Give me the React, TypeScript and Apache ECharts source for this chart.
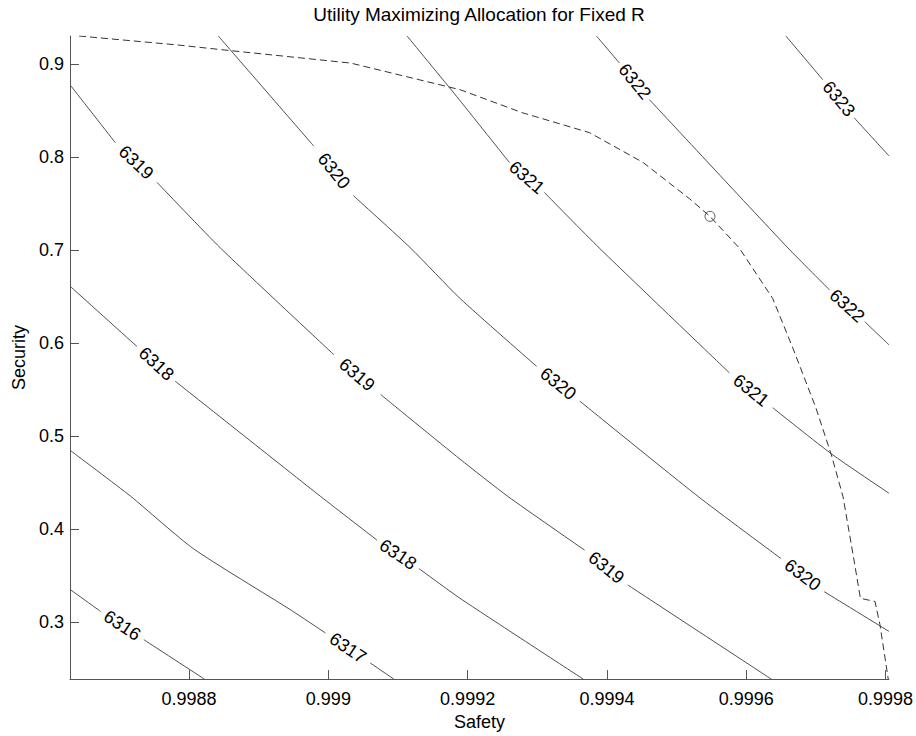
import React, { useEffect, useRef } from 'react';
import * as echarts from 'echarts';

const FONT = '"Liberation Sans", Arial, Helvetica, sans-serif';

const chartTitle = 'Utility Maximizing Allocation for Fixed R';
const xName = 'Safety';
const yName = 'Security';
const xMin = 0.998629;
const xMax = 0.999805;
const yMin = 0.2388;
const yMax = 0.9302;
const xTicks = [0.9988, 0.999, 0.9992, 0.9994, 0.9996, 0.9998];
const yTicks = [0.3, 0.4, 0.5, 0.6, 0.7, 0.8, 0.9];

// contour lines (Safety, Security); label positions are given by index
const c6316 = [[0.99863, 0.3347], [0.998673, 0.3115], [0.998704, 0.2965], [0.998735, 0.2812], [0.998822, 0.2388]];
const c6316Labels = [2];
const c6317 = [[0.99863, 0.4843], [0.998716, 0.4354], [0.998806, 0.3791], [0.998945, 0.3136], [0.998996, 0.2883], [0.999028, 0.2722], [0.99906, 0.2562], [0.999094, 0.2388]];
const c6317Labels = [5];
const c6318 = [[0.99863, 0.6606], [0.998725, 0.5965], [0.998753, 0.5778], [0.99878, 0.5591], [0.998989, 0.4351], [0.99907, 0.3881], [0.9991, 0.3729], [0.99913, 0.3577], [0.999189, 0.3257], [0.999366, 0.2388]];
const c6318Labels = [2, 6];
const c6319 = [[0.99863, 0.8768], [0.998694, 0.8156], [0.998724, 0.7942], [0.998754, 0.7728], [0.998845, 0.7023], [0.999008, 0.5875], [0.999041, 0.5661], [0.999075, 0.5448], [0.999189, 0.4753], [0.999258, 0.4351], [0.999368, 0.3774], [0.999399, 0.3587], [0.99943, 0.34], [0.999636, 0.2388]];
const c6319Labels = [2, 6, 11];
const c6320 = [[0.998842, 0.9302], [0.998979, 0.8119], [0.999008, 0.7852], [0.999036, 0.7585], [0.999118, 0.7023], [0.999189, 0.6481], [0.999299, 0.5751], [0.99933, 0.5564], [0.999361, 0.5377], [0.999531, 0.4351], [0.99965, 0.3684], [0.999681, 0.3507], [0.999712, 0.3328], [0.999805, 0.2901]];
const c6320Labels = [2, 7, 11];
const c6321 = [[0.999113, 0.9302], [0.999184, 0.8654], [0.99926, 0.7942], [0.999285, 0.7782], [0.99931, 0.7621], [0.999389, 0.7023], [0.999576, 0.568], [0.999607, 0.5493], [0.999638, 0.5306], [0.999723, 0.4806], [0.999805, 0.4386]];
const c6321Labels = [3, 7];
const c6322 = [[0.999385, 0.9302], [0.999418, 0.9011], [0.99944, 0.8814], [0.999461, 0.8618], [0.99966, 0.7023], [0.99972, 0.657], [0.999745, 0.6401], [0.99977, 0.6232], [0.999805, 0.5982]];
const c6322Labels = [2, 6];
const c6323 = [[0.999657, 0.9302], [0.99971, 0.8832], [0.999733, 0.8627], [0.999755, 0.8423], [0.999805, 0.8013]];
const c6323Labels = [2];

const levels = [6316, 6317, 6318, 6319, 6320, 6321, 6322, 6323];
const contourPoints = [c6316, c6317, c6318, c6319, c6320, c6321, c6322, c6323];
const contourLabels = [c6316Labels, c6317Labels, c6318Labels, c6319Labels, c6320Labels, c6321Labels, c6322Labels, c6323Labels];

// dashed path of utility-maximizing allocations
const optimalPath = [
  [0.998642, 0.9302], [0.998783, 0.9206], [0.998859, 0.9145], [0.999032, 0.9011], [0.999189, 0.8725],
  [0.999279, 0.8476], [0.999375, 0.8263], [0.999452, 0.7942], [0.999519, 0.755], [0.999548, 0.7363],
  [0.99959, 0.7023], [0.999638, 0.6481], [0.999667, 0.5947], [0.9997, 0.5306], [0.999722, 0.4806],
  [0.999739, 0.4351], [0.999754, 0.3703], [0.999764, 0.3257], [0.999785, 0.3222], [0.999792, 0.2976],
  [0.999804, 0.2388],
];
const optimum = [0.999548, 0.7363];

export default function App() {
  const ref = useRef<HTMLDivElement>(null);
  useEffect(() => {
    if (!ref.current) return;
    const chart = echarts.init(ref.current, null, { renderer: 'svg' });

    const lineSeries = contourPoints.map((pts, ci) => {
      const labelIdx = contourLabels[ci];
      const data = pts.map((p, i) => (labelIdx.includes(i) ? [p[0], '-'] : p));
      return {
        type: 'line',
        name: String(levels[ci]),
        data,
        showSymbol: false,
        symbol: 'none',
        silent: true,
        connectNulls: false,
        smooth: 0.2,
        lineStyle: { color: '#3a3a3a', width: 0.9 },
        z: 2,
      };
    });

    const labelItems: { value: number[]; text: string }[] = [];
    contourPoints.forEach((pts, ci) => {
      contourLabels[ci].forEach((i) => {
        labelItems.push({
          value: [pts[i][0], pts[i][1], pts[i - 1][0], pts[i - 1][1], pts[i + 1][0], pts[i + 1][1]],
          text: String(levels[ci]),
        });
      });
    });

    const option: any = {
      animation: false,
      backgroundColor: '#fff',
      title: {
        text: chartTitle,
        left: 479,
        top: 5,
        textAlign: 'center',
        padding: 0,
        textStyle: { fontSize: 19, fontWeight: 'normal', fontFamily: FONT, color: '#000' },
      },
      grid: { left: 70, right: 27, top: 36, bottom: 53, containLabel: false },
      xAxis: {
        type: 'value',
        min: xMin,
        max: xMax,
        name: xName,
        nameLocation: 'middle',
        nameGap: 27,
        nameTextStyle: { fontSize: 18, fontFamily: FONT, color: '#000' },
        axisLine: { show: true, lineStyle: { color: '#555', width: 1 } },
        axisTick: { show: true, inside: true, length: 9, customValues: xTicks, lineStyle: { color: '#555' } },
        axisLabel: { customValues: xTicks, margin: 11, fontSize: 18, fontFamily: FONT, color: '#000', formatter: (v: number) => String(v) },
        splitLine: { show: false },
      },
      yAxis: {
        type: 'value',
        min: yMin,
        max: yMax,
        name: yName,
        nameLocation: 'middle',
        nameGap: 40,
        nameTextStyle: { fontSize: 18, fontFamily: FONT, color: '#000' },
        axisLine: { show: true, lineStyle: { color: '#555', width: 1 } },
        axisTick: { show: true, inside: true, length: 9, customValues: yTicks, lineStyle: { color: '#555' } },
        axisLabel: { customValues: yTicks, margin: 6, fontSize: 18, fontFamily: FONT, color: '#000', formatter: (v: number) => String(v) },
        splitLine: { show: false },
      },
      series: [
        ...lineSeries,
        {
          type: 'line',
          name: 'path',
          data: optimalPath,
          showSymbol: false,
          symbol: 'none',
          silent: true,
          lineStyle: { color: '#333', width: 1, type: [7, 4] },
          z: 3,
        },
        {
          type: 'scatter',
          name: 'optimum',
          data: [optimum],
          symbol: 'circle',
          symbolSize: 10,
          silent: true,
          itemStyle: { color: 'rgba(0,0,0,0)', borderColor: '#333', borderWidth: 1 },
          z: 4,
        },
        {
          type: 'custom',
          name: 'labels',
          coordinateSystem: 'cartesian2d',
          data: labelItems.map((l) => l.value),
          encode: { x: 0, y: 1 },
          silent: true,
          z: 5,
          renderItem: (params: any, api: any) => {
            const p = api.coord([api.value(0), api.value(1)]);
            const a = api.coord([api.value(2), api.value(3)]);
            const b = api.coord([api.value(4), api.value(5)]);
            const ang = Math.atan2(b[1] - a[1], b[0] - a[0]);
            return {
              type: 'text',
              x: p[0],
              y: p[1],
              rotation: -ang,
              style: {
                text: labelItems[params.dataIndex].text,
                font: `18px ${FONT}`,
                fill: '#000',
                align: 'center',
                verticalAlign: 'middle',
              },
            };
          },
        },
      ],
    };
    chart.setOption(option);
    return () => chart.dispose();
  }, []);
  return (
    <div
      ref={ref}
      style={{ position: 'fixed', left: 0, top: 0, width: 916, height: 736, background: '#fff' }}
    />
  );
}
